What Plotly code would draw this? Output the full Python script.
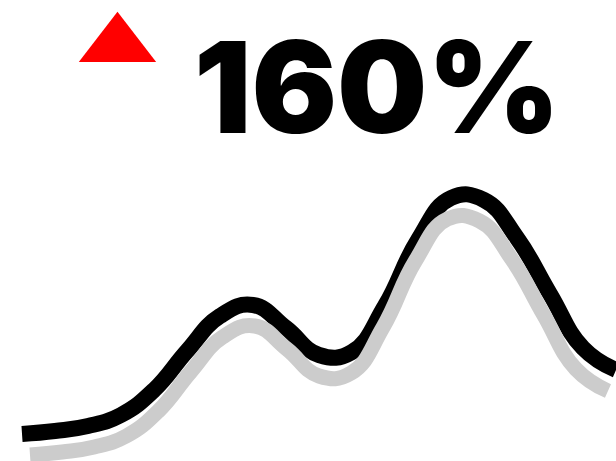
import plotly.graph_objects as go

# Data (arbitrary units)
periods = list(range(19))
values = [27, 30, 35, 46, 71, 110, 145, 156, 133, 106, 109, 155, 221, 263, 261, 223, 167, 113, 91]
shadow_values = values[:]  # shadow copy of the same series
kpi_text = "160%"
arrow_pos = dict(x=[0.1907], y=[0.902])  # up-arrow indicator position (paper fraction)

fig = go.Figure()

fig.add_trace(go.Scatter(
    x=periods, y=shadow_values, mode="lines",
    line=dict(color="#cccccc", width=15, shape="spline", smoothing=1.3),
    xaxis="x2", yaxis="y2", hoverinfo="skip", showlegend=False,
))
fig.add_trace(go.Scatter(
    x=periods, y=values, mode="lines",
    line=dict(color="#000000", width=16, shape="spline", smoothing=1.3),
    xaxis="x", yaxis="y", hoverinfo="skip", showlegend=False,
))
fig.add_trace(go.Scatter(
    x=arrow_pos["x"], y=arrow_pos["y"], mode="markers",
    marker=dict(symbol="triangle-up", size=67, color="#ff0000", line=dict(width=0)),
    xaxis="x3", yaxis="y3", hoverinfo="skip", showlegend=False, cliponaxis=False,
))

hidden = dict(visible=False, showgrid=False, zeroline=False, fixedrange=True)
fig.update_layout(
    width=616, height=461,
    margin=dict(l=0, r=0, t=0, b=0),
    paper_bgcolor="white", plot_bgcolor="white",
    xaxis=dict(range=[-0.667, 18], domain=[0, 1], anchor="y", **hidden),
    yaxis=dict(range=[0, 461], domain=[0, 1], anchor="x", **hidden),
    xaxis2=dict(range=[-0.934, 18.25], domain=[0, 1], anchor="y2", overlaying="x", **hidden),
    yaxis2=dict(range=[21, 482], domain=[0, 1], anchor="x2", overlaying="y", **hidden),
    xaxis3=dict(range=[0, 1], domain=[0, 1], anchor="y3", overlaying="x", **hidden),
    yaxis3=dict(range=[0, 1], domain=[0, 1], anchor="x3", overlaying="y", **hidden),
    annotations=[
        dict(text=kpi_text, xref="paper", yref="paper", x=0.612, y=0.812,
             xanchor="center", yanchor="middle", showarrow=False,
             font=dict(family="Inter", size=127, color="black", weight=900)),
    ],
)

fig.write_html("out.html")
